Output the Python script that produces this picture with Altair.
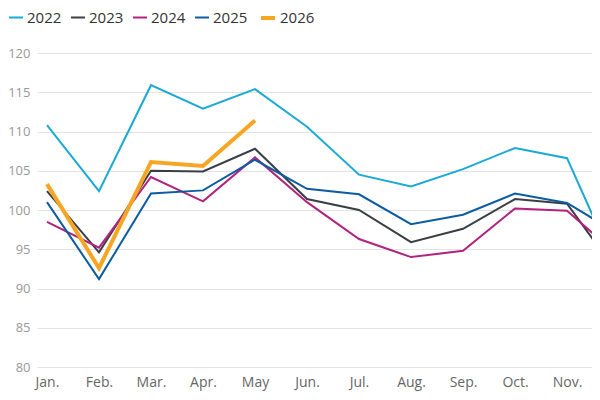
import altair as alt
import pandas as pd

months = ["Jan.", "Feb.", "Mar.", "Apr.", "May", "Jun.", "Jul.", "Aug.", "Sep.", "Oct.", "Nov.", "Dec."]
years = ["2022", "2023", "2024", "2025", "2026"]
y2022 = [110.8, 102.4, 115.9, 112.9, 115.4, 110.6, 104.5, 103.0, 105.2, 107.9, 106.6, 91.8]
y2023 = [102.4, 94.6, 105.0, 104.9, 107.8, 101.4, 100.0, 95.9, 97.6, 101.4, 100.8, 91.7]
y2024 = [98.5, 95.2, 104.2, 101.1, 106.7, 101.0, 96.3, 94.0, 94.8, 100.2, 99.9, 94.1]
y2025 = [101.0, 91.2, 102.1, 102.5, 106.4, 102.7, 102.0, 98.2, 99.4, 102.1, 100.9, 96.9]
y2026 = [103.3, 92.6, 106.1, 105.6, 111.4]
colors = ["#1ba9d6", "#3b3e44", "#b2227e", "#0b5ca0", "#f6a623"]
widths = [2, 2, 2, 2, 4]

series = [y2022, y2023, y2024, y2025, y2026]
rows = []
for yr, vals in zip(years, series):
    for i, v in enumerate(vals):
        rows.append({"year": yr, "m": i, "value": v})
df = pd.DataFrame(rows)

label_expr = "[" + ",".join("'" + m + "'" for m in months) + "][datum.value]"

legend_kw = dict(title=None, orient="none", direction="horizontal",
                 legendX=-29, legendY=-44, symbolType="stroke",
                 symbolSize=196, labelFontSize=15, labelColor="#333333",
                 labelOffset=3, columnPadding=5)

chart = alt.Chart(df).mark_line(clip=True, strokeJoin="miter").encode(
    x=alt.X("m:Q",
            scale=alt.Scale(domain=[-0.192, 10.48], nice=False, zero=False),
            axis=alt.Axis(values=list(range(11)), labelExpr=label_expr, grid=False,
                          domain=False, ticks=False, title=None, labelFontSize=14,
                          labelColor="#666666", labelPadding=8, labelFlush=False)),
    y=alt.Y("value:Q",
            scale=alt.Scale(domain=[80, 120], nice=False, zero=False),
            axis=alt.Axis(values=[80, 85, 90, 95, 100, 105, 110, 115, 120], grid=True,
                          gridColor="#e3e3e3", domain=False, ticks=False, title=None,
                          labelFontSize=13, labelColor="#999999", labelPadding=7)),
    color=alt.Color("year:N", scale=alt.Scale(domain=years, range=colors),
                    legend=alt.Legend(**legend_kw)),
    strokeWidth=alt.StrokeWidth("year:N",
                                scale=alt.Scale(type="ordinal", domain=years, range=widths),
                                legend=alt.Legend(**legend_kw)),
    order="m:Q",
).properties(
    width=555, height=314,
    autosize=alt.AutoSizeParams(type="none"),
    padding={"left": 29, "top": 45, "right": 0, "bottom": 24},
).configure(font="Open Sans").configure_view(stroke=None)

chart.save("out.html", embed_options={"renderer": "svg", "actions": False})
